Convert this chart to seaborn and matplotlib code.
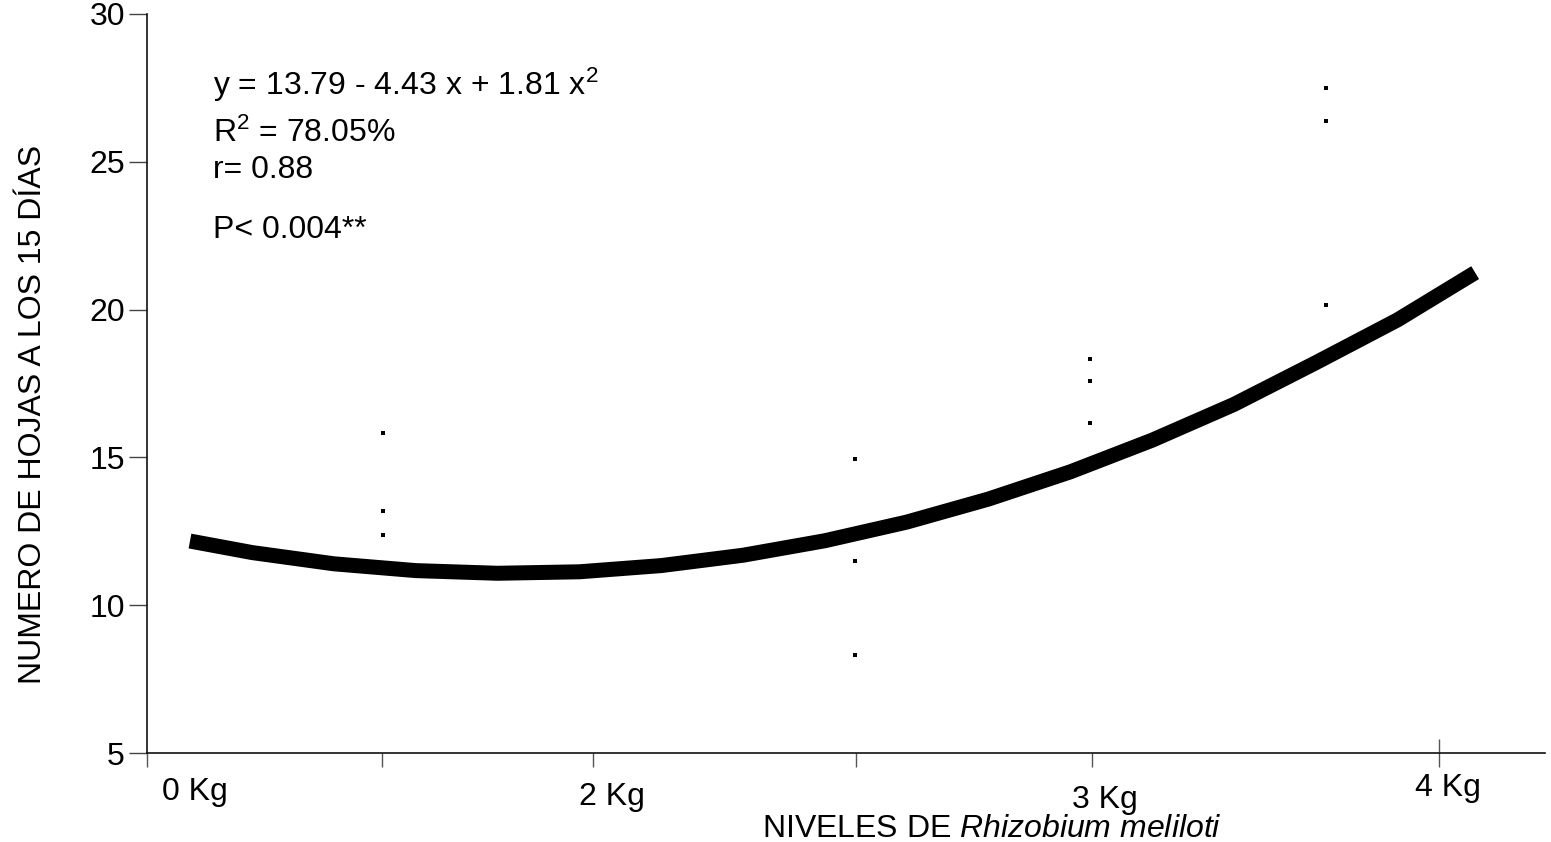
import matplotlib.pyplot as plt
import seaborn as sns

sns.set_theme(style="ticks")

# curve (x in fitted-model units)
curve_x = [0.448, 0.6, 0.8, 1.0, 1.2, 1.4, 1.6, 1.8, 2.0, 2.2, 2.4, 2.6, 2.8, 3.0, 3.2, 3.4, 3.59]
curve_y = [12.17, 11.78, 11.40, 11.17, 11.08, 11.13, 11.34, 11.69, 12.18, 12.81, 13.59, 14.51, 15.58, 16.79, 18.2, 19.65, 21.25]

# observed points
obs_x = [0.92, 0.92, 0.92, 2.074, 2.074, 2.074, 2.649, 2.649, 2.649, 3.225, 3.225, 3.225]
obs_y = [15.82, 13.17, 12.39, 14.93, 11.51, 8.30, 18.32, 17.58, 16.15, 27.49, 26.37, 20.15]

y_ticks = [5, 10, 15, 20, 25, 30]
x_tick_marks = [0.343, 0.917, 1.433, 2.076, 2.653]
x_tick_last = [3.502]
x_labels = ["0 Kg", "2 Kg", "3 Kg", "4 Kg"]

stats_lines = ["y = 13.79 - 4.43 x + 1.81 x$^{2}$",
               "R$^{2}$ = 78.05%",
               "r= 0.88",
               "P< 0.004**"]

plt.rcParams["font.family"] = ["Liberation Sans", "DejaVu Sans"]
plt.rcParams["mathtext.fontset"] = "custom"
plt.rcParams["mathtext.rm"] = "Liberation Sans"
plt.rcParams["mathtext.it"] = "Liberation Sans:italic"
plt.rcParams["text.color"] = "black"
plt.rcParams["axes.labelcolor"] = "black"
plt.rcParams["xtick.labelcolor"] = "black"
plt.rcParams["ytick.labelcolor"] = "black"

fs = 23

fig = plt.figure(figsize=(15.51, 8.42), dpi=100)
ax = fig.add_axes([0.0948, 0.1057, 0.9014, 0.8777])

sns.lineplot(x=curve_x, y=curve_y, color="black", lw=10.8, ax=ax,
             solid_capstyle="butt", sort=False)
sns.scatterplot(x=obs_x, y=obs_y, marker="s", s=10, color="black",
                linewidth=0, ax=ax, zorder=3)

ax.set_xlim(0.343, 3.761)
ax.set_ylim(5, 30)
ax.set_yticks(y_ticks)
ax.set_yticklabels([str(v) for v in y_ticks], fontsize=fs)
ax.tick_params(axis="y", length=13, width=1, color="#444444", pad=3)

# tick marks: most point down, the last one crosses the axis
ax.set_xticks(x_tick_last)
ax.set_xticklabels([])
ax.set_xticks(x_tick_marks, minor=True)
ax.tick_params(axis="x", which="major", direction="inout", length=20,
               width=1, color="#555555")
ax.tick_params(axis="x", which="minor", direction="out", length=10,
               width=1, color="#555555")

sns.despine(ax=ax)
for s in ["left", "bottom"]:
    ax.spines[s].set_linewidth(1.2)
    ax.spines[s].set_color("#111111")

# tick labels sit away from the tick marks in the original
label_pos = [(0.46, -0.0636), (1.48, -0.0704), (2.685, -0.0744), (3.524, -0.0582)]
trans = ax.get_xaxis_transform()
for lab, (lx, ly) in zip(x_labels, label_pos):
    ax.text(lx, ly, lab, transform=trans, ha="center", va="baseline", fontsize=fs)

ax.text(0.604, -0.1130, "NIVELES DE $\\it{Rhizobium\\ meliloti}$",
        transform=ax.transAxes, ha="center", va="baseline", fontsize=fs)

ax.set_ylabel("")
ax.set_xlabel("")
fig.text(33 / 1551, 1 - 414 / 842, "NUMERO DE HOJAS A LOS 15 DÍAS",
         rotation=90, ha="center", va="center", fontsize=fs)

for txt, yy in zip(stats_lines, [0.890, 0.827, 0.778, 0.697]):
    ax.text(0.0472, yy, txt, transform=ax.transAxes, ha="left",
            va="baseline", fontsize=fs)

fig.savefig("out.png", dpi=100)
